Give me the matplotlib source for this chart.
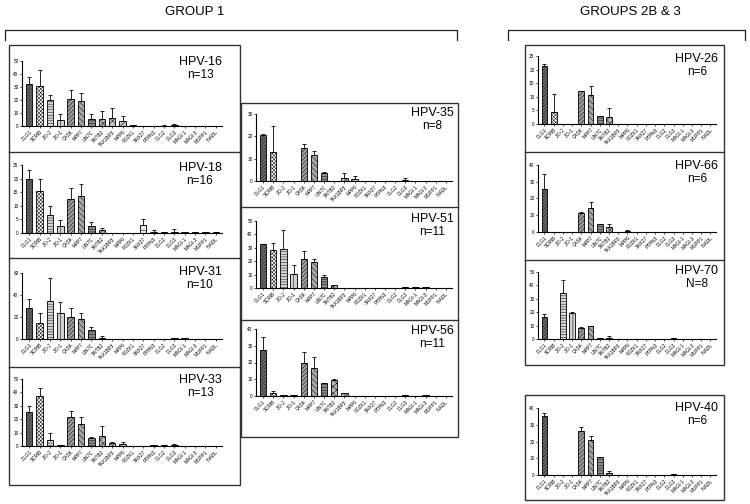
import matplotlib
matplotlib.use("Agg")
import matplotlib.pyplot as plt
import numpy as np
from matplotlib.patches import Rectangle
from matplotlib.lines import Line2D

plt.rcParams['font.family'] = ['Liberation Sans', 'DejaVu Sans']
plt.rcParams['hatch.linewidth'] = 0.35

categories = ["DLG1", "SCRIB", "ZO-2", "ZO-1", "CASK", "MPP7", "LIN7C", "SNTB2",
              "TAX1BP3", "MPP6", "PDZK1", "SNX27", "PTPN3", "DLG2", "DLG3",
              "MAGI-1", "MAGI-3", "MUPP1", "INADL"]

hpv16 = [32, 31, 20, 4.5, 20.5, 19.5, 5.5, 5.5, 6, 3.5, 0.5, 0, 0, 0.3, 1, 0, 0, 0, 0]
hpv16_err = [6, 12, 4, 5, 7, 6, 3.5, 6, 8, 4, 0.5, 0, 0, 0.3, 0.5, 0, 0, 0, 0]
hpv18 = [20, 15.5, 6.5, 2.5, 12.5, 13.5, 2.5, 1, 0, 0, 0, 3, 0.5, 0.2, 0.5, 0.3, 0.3, 0.3, 0.3]
hpv18_err = [3, 4.5, 3.5, 2.2, 4, 4.5, 1.5, 0.8, 0, 0, 0, 2, 0.5, 0.1, 1, 0.1, 0.1, 0.1, 0.1]
hpv31 = [28, 14.5, 34.5, 23.5, 20, 18, 8, 1, 0, 0, 0, 0, 0, 0, 0.5, 0.5, 0, 0, 0]
hpv31_err = [8, 9, 21, 10.5, 8.5, 5.5, 3, 1.5, 0, 0, 0, 0, 0, 0, 0.5, 0.5, 0, 0, 0]
hpv33 = [25.5, 37.5, 4.5, 0.5, 21.5, 16.5, 6, 7.5, 2.5, 1.5, 0, 0, 0.5, 0.5, 1, 0, 0, 0, 0]
hpv33_err = [4.5, 6, 5, 0.5, 4.5, 5, 0.5, 7.5, 0.5, 1.5, 0, 0, 0.5, 0.3, 0.5, 0, 0, 0, 0]
hpv35 = [20.5, 13, 0, 0, 15, 11.5, 3.5, 0, 1.5, 1, 0, 0, 0, 0, 0.5, 0, 0, 0, 0]
hpv35_err = [0.7, 11.5, 0, 0, 1.5, 2, 0.5, 0, 2, 1.3, 0, 0, 0, 0, 0.7, 0, 0, 0, 0]
hpv51 = [32.5, 28, 29, 10.5, 21.5, 19.5, 8, 2, 0, 0, 0, 0, 0, 0, 0.5, 0.5, 0.5, 0, 0]
hpv51_err = [0.5, 5.5, 14, 6.5, 6, 2, 1.5, 0.3, 0, 0, 0, 0, 0, 0, 0.3, 0.3, 0.3, 0, 0]
hpv56 = [27.5, 1.5, 0.5, 0.5, 19.5, 17, 7.5, 9.5, 1.5, 0, 0, 0, 0, 0, 0.5, 0, 0.5, 0, 0]
hpv56_err = [8, 1.5, 0.3, 0.3, 6.5, 6, 0.5, 0.5, 0.3, 0, 0, 0, 0, 0, 0.3, 0, 0.3, 0, 0]
hpv26 = [21.5, 4.5, 0, 0, 12, 10.5, 3, 2.5, 0, 0, 0, 0, 0, 0, 0, 0, 0, 0, 0]
hpv26_err = [0.7, 6.5, 0, 0, 0, 3.5, 0, 3.5, 0, 0, 0, 0, 0, 0, 0, 0, 0, 0, 0]
hpv66 = [25.5, 0, 0, 0, 11.5, 14.5, 4.5, 3, 0, 0.5, 0, 0, 0, 0, 0, 0, 0, 0, 0]
hpv66_err = [9, 0, 0, 0, 0.5, 3.5, 0.5, 1.5, 0, 0.5, 0, 0, 0, 0, 0, 0, 0, 0, 0]
hpv70 = [16.5, 0, 34.5, 19.5, 8.5, 9.5, 0.5, 1, 0, 0, 0, 0, 0, 0, 0.5, 0, 0, 0, 0]
hpv70_err = [2, 0, 9.5, 0.5, 0.5, 0.5, 0.3, 1.5, 0, 0, 0, 0, 0, 0, 0.3, 0, 0, 0, 0]
hpv40 = [35.5, 0, 0, 0, 26, 21, 11, 1, 0, 0, 0, 0, 0, 0, 0.5, 0, 0, 0, 0]
hpv40_err = [1.5, 0, 0, 0, 2.5, 2.5, 0, 1.5, 0, 0, 0, 0, 0, 0, 0.3, 0, 0, 0, 0]

titles = ["HPV-16", "HPV-18", "HPV-31", "HPV-33", "HPV-35", "HPV-51", "HPV-56",
          "HPV-26", "HPV-66", "HPV-70", "HPV-40"]
ns = ["n=13", "n=16", "n=10", "n=13", "n=8", "n=11", "n=11", "n=6", "n=6", "N=8", "n=6"]
ymaxes = [50, 25, 60, 50, 30, 50, 40, 25, 40, 50, 40]
ysteps = [10, 5, 20, 10, 10, 10, 10, 5, 10, 10, 10]
values = [hpv16, hpv18, hpv31, hpv33, hpv35, hpv51, hpv56, hpv26, hpv66, hpv70, hpv40]
errors = [hpv16_err, hpv18_err, hpv31_err, hpv33_err, hpv35_err, hpv51_err, hpv56_err,
          hpv26_err, hpv66_err, hpv70_err, hpv40_err]

# bar styles (face colour, hatch)
styles = [("#707070", "//////////"), ("#ffffff", "xxxxxxxxx"), ("#d8d8d8", "------"),
          ("#d0d0d0", "||||"), ("#a0a0a0", "////////"), ("#a8a8a8", "\\\\\\\\\\\\"),
          ("#8c8c8c", "------"), ("#b8b8b8", "xxxxx"), ("#c8c8c8", "xxxx"),
          ("#c4c4c4", "/////"), ("#9a9a9a", ""), ("#e8e8e8", "---"),
          ("#b0b0b0", "...."), ("#9a9a9a", ""), ("#666666", "++"),
          ("#9a9a9a", ""), ("#9a9a9a", ""), ("#9a9a9a", ""), ("#9a9a9a", "")]

W, H = 750, 504
fig = plt.figure(figsize=(7.5, 5.04), dpi=100)

def fx(x):
    return x / W

def fy(y):
    return 1 - y / H

# axes boxes in pixels: (left, top, right, bottom)
axes_px = [(22, 61, 222, 126), (22, 165, 222, 233), (22, 273, 222, 339), (22, 379, 222, 446),
           (256, 114, 452, 181), (256, 221, 452, 288), (256, 329, 452, 396),
           (538, 56, 716, 124), (538, 165, 716, 232), (538, 272, 716, 339), (538, 408, 716, 475)]
# label positions (center x, title y)
label_px = [(200, 62), (200, 168), (200, 272), (200, 380),
            (432, 113), (432, 219), (432, 331),
            (697, 59), (697, 166), (697, 271), (697, 408)]

x = np.arange(len(categories))
for i in range(len(titles)):
    l, t, r, b = axes_px[i]
    ax = fig.add_axes([fx(l), fy(b), fx(r) - fx(l), (b - t) / H])
    for j in range(len(categories)):
        fc, hatch = styles[j]
        ax.bar(x[j], values[i][j], width=0.62, color=fc, edgecolor="black",
               linewidth=0.6, hatch=hatch, zorder=2)
    err = np.array(errors[i])
    ax.errorbar(x, values[i], yerr=[np.zeros_like(err), err], fmt="none",
                ecolor="black", elinewidth=0.6, capsize=1.4, capthick=0.6, zorder=3)
    ax.set_xlim(-0.7, len(categories) - 0.4)
    ax.set_ylim(0, ymaxes[i])
    ax.set_yticks(np.arange(0, ymaxes[i] + 0.1, ysteps[i]))
    ax.set_xticks(x)
    ax.set_xticklabels(categories, rotation=45, ha="right", rotation_mode="anchor",
                       fontsize=3.4)
    ax.tick_params(axis="y", labelsize=3.4, length=1.5, width=0.5, pad=1)
    ax.tick_params(axis="x", length=1.5, width=0.5, pad=1)
    for s in ("top", "right"):
        ax.spines[s].set_visible(False)
    for s in ("left", "bottom"):
        ax.spines[s].set_linewidth(0.8)
    ax.patch.set_alpha(0)
    cx, ty = label_px[i]
    fig.text(fx(cx), fy(ty), titles[i], ha="center", va="center", fontsize=9)
    fig.text(fx(cx), fy(ty + 13), ns[i], ha="center", va="center", fontsize=8.5)

def box(l, t, r, b):
    fig.patches.append(Rectangle((fx(l), fy(b)), fx(r) - fx(l), (b - t) / H,
                                 transform=fig.transFigure, fill=False,
                                 edgecolor="#333333", linewidth=1.0))

def hline(y, x0, x1):
    fig.lines.append(Line2D([fx(x0), fx(x1)], [fy(y), fy(y)], transform=fig.transFigure,
                            color="#333333", linewidth=1.0))

box(9, 45, 240, 485)
for y in (152, 258, 367):
    hline(y, 9, 240)
box(241, 103, 458, 437)
for y in (207, 320):
    hline(y, 241, 458)
box(525, 45, 724, 365)
for y in (152, 260):
    hline(y, 525, 724)
box(525, 395, 724, 500)

# group brackets
for (x0, x1) in [(5, 457), (508, 745)]:
    fig.lines.append(Line2D([fx(x0), fx(x0), fx(x1), fx(x1)],
                            [fy(40), fy(30), fy(30), fy(40)],
                            transform=fig.transFigure, color="#222222", linewidth=0.9))
fig.text(fx(195), fy(12), "GROUP 1", ha="center", va="center", fontsize=9.5)
fig.text(fx(630), fy(12), "GROUPS 2B & 3", ha="center", va="center", fontsize=9.5)

fig.savefig("out.png", dpi=100)
